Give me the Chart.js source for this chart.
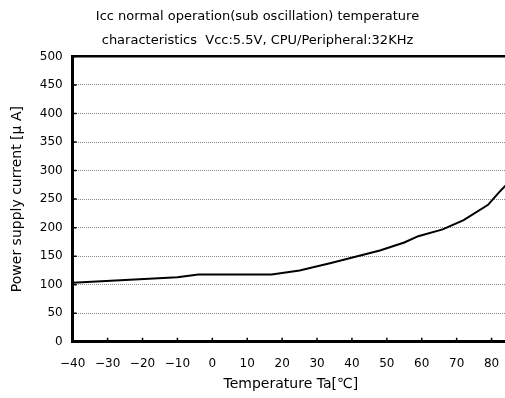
<!DOCTYPE html>
<html>
<head>
<meta charset="utf-8">
<script src="https://cdn.jsdelivr.net/npm/chart.js@4/dist/chart.umd.min.js"></script>
<style>
  html, body { margin: 0; padding: 0; background: #fff; overflow: hidden; }
  #wrap { width: 520px; height: 398px; }
</style>
</head>
<body>
<div id="wrap"><canvas id="icc"></canvas></div>
<script>
// Icc vs. ambient temperature, sub oscillation, Vcc 5.5V
const titleLines = [
  'Icc normal operation(sub oscillation) temperature',
  'characteristics  Vcc:5.5V, CPU/Peripheral:32KHz'
];
const xTitle = 'Temperature Ta[\u2103]';
const yTitle = 'Power supply current [\u03bc A]';

const temperature = [-40, -10, -4, 17, 25, 34, 48, 55, 59, 66, 72, 79, 82, 85];
const current     = [103.5, 113, 118, 118, 125, 138, 160, 174, 185, 197, 213, 240, 261, 280];

const xMin = -40, xMax = 85, xStep = 10;
const yMin = 0, yMax = 500, yStep = 50;

const FONT = "'DejaVu Sans', sans-serif";

// short inward tick marks on the bottom and left axes
const innerTicks = {
  id: 'innerTicks',
  afterDatasetsDraw(chart) {
    const { ctx, chartArea, scales } = chart;
    ctx.save();
    ctx.strokeStyle = '#000';
    ctx.lineWidth = 1.5;
    ctx.beginPath();
    scales.x.ticks.forEach(t => {
      const px = scales.x.getPixelForValue(t.value);
      ctx.moveTo(px, chartArea.bottom);
      ctx.lineTo(px, chartArea.bottom - 4);
    });
    scales.y.ticks.forEach(t => {
      const py = scales.y.getPixelForValue(t.value);
      ctx.moveTo(chartArea.left, py);
      ctx.lineTo(chartArea.left + 4, py);
    });
    ctx.stroke();
    ctx.restore();
  }
};

new Chart(document.getElementById('icc'), {
  type: 'scatter',
  data: {
    datasets: [{
      data: temperature.map((t, i) => ({ x: t, y: current[i] })),
      showLine: true,
      borderColor: '#000',
      borderWidth: 2,
      pointRadius: 0,
      tension: 0
    }]
  },
  options: {
    responsive: true,
    maintainAspectRatio: false,
    animation: false,
    layout: { padding: { left: 6, right: 11, top: 4, bottom: 5 } },
    plugins: {
      legend: { display: false },
      tooltip: { enabled: false },
      title: {
        display: true,
        text: titleLines,
        color: '#000',
        font: { family: FONT, size: 13, weight: 'normal', lineHeight: 1.9 },
        padding: { top: 0, bottom: 3 }
      }
    },
    scales: {
      x: {
        type: 'linear',
        min: xMin,
        max: xMax,
        afterBuildTicks: scale => {
          scale.ticks = scale.ticks.filter(t => t.value % xStep === 0);
        },
        ticks: {
          stepSize: xStep,
          includeBounds: false,
          autoSkip: false,
          color: '#000',
          padding: 15,
          maxRotation: 0,
          font: { family: FONT, size: 12 },
          callback: v => (v < 0 ? '\u2212' + Math.abs(v) : String(v))
        },
        grid: { display: false, drawTicks: false },
        border: { display: true, color: '#000', width: 3 },
        title: {
          display: true,
          text: xTitle,
          color: '#000',
          font: { family: FONT, size: 14 },
          padding: { top: -10, bottom: 0 }
        }
      },
      y: {
        type: 'linear',
        min: yMin,
        max: yMax,
        ticks: {
          stepSize: yStep,
          color: '#000',
          padding: 10,
          font: { family: FONT, size: 12 }
        },
        grid: {
          drawTicks: false,
          color: ctx => (ctx.tick && ctx.tick.value === yMax ? '#000' : '#8a8a8a'),
          lineWidth: ctx => (ctx.tick && ctx.tick.value === yMax ? 2.5 : 1)
        },
        border: {
          display: true,
          color: '#000',
          width: 3,
          dash: ctx => (ctx.tick && ctx.tick.value === yMax ? [] : [1, 1])
        },
        title: {
          display: true,
          text: yTitle,
          color: '#000',
          font: { family: FONT, size: 14 },
          padding: { top: 3, bottom: 4 }
        }
      }
    }
  },
  plugins: [innerTicks]
});
</script>
</body>
</html>
